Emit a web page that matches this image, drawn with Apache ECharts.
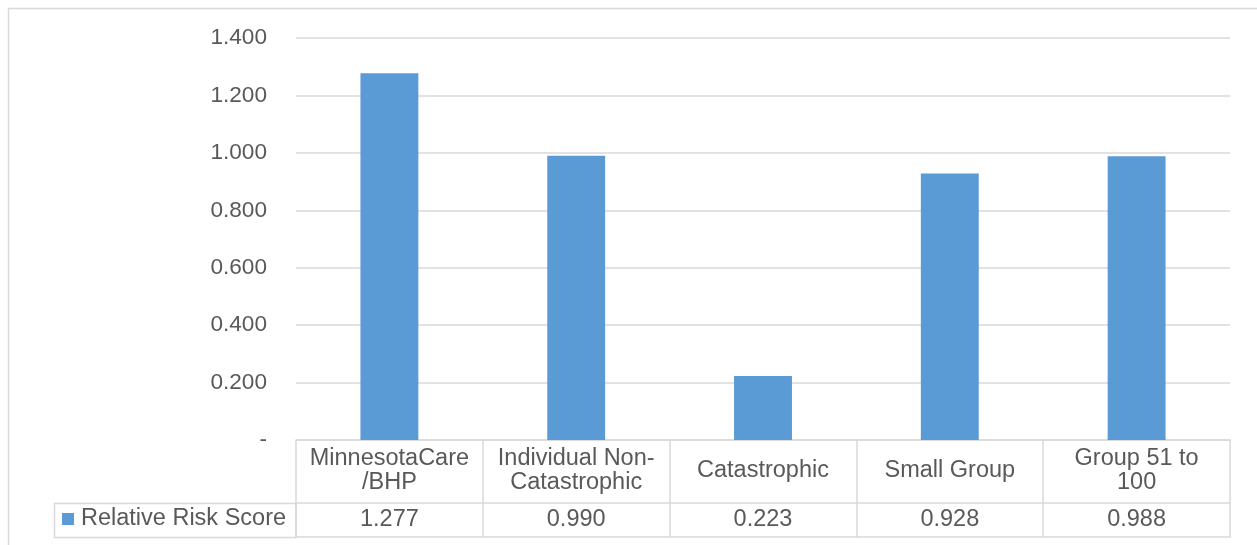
<!DOCTYPE html>
<html>
<head>
<meta charset="utf-8">
<script src="https://cdn.jsdelivr.net/npm/echarts@6/dist/echarts.min.js"></script>
<style>
html,body{margin:0;padding:0;background:#fff;}
#chart{width:1257px;height:545px;}
</style>
</head>
<body>
<div id="chart"></div>
<script>
const categories = ['MinnesotaCare\n/BHP', 'Individual Non-\nCatastrophic', 'Catastrophic', 'Small Group', 'Group 51 to\n100'];
const seriesName = 'Relative Risk Score';
const values = [1.277, 0.990, 0.223, 0.928, 0.988];
const yTicks = { min: 0, max: 1.4, interval: 0.2 };

const textColor = '#595959';
const lineColor = '#D9D9D9';
const font = 'Liberation Sans, Arial, sans-serif';
const fs = 23.5;
const fsY = 22.6;

const chart = echarts.init(document.getElementById('chart'));
chart.setOption({
  animation: false,
  textStyle: { fontFamily: font },
  grid: { left: 296, right: 27, top: 38, bottom: 105 },
  legend: {
    data: [seriesName],
    left: 62, top: 507,
    icon: 'rect', itemWidth: 12, itemHeight: 12, itemGap: 7,
    textStyle: { color: textColor, fontSize: fs, fontFamily: font, padding: [0, 0, 0, 2] },
    padding: 0
  },
  graphic: [
    { type: 'rect', shape: { x: 8.5, y: 8.5, width: 1300, height: 600 }, style: { fill: 'none', stroke: lineColor, lineWidth: 1.5 }, silent: true },
    { type: 'rect', shape: { x: 54.5, y: 503.5, width: 241.5, height: 34 }, style: { fill: 'none', stroke: lineColor, lineWidth: 1.5 }, silent: true }
  ],
  xAxis: [
    {
      type: 'category', data: categories, position: 'bottom',
      axisLine: { show: true, lineStyle: { color: lineColor, width: 1.5 } },
      axisTick: { show: true, interval: 0, length: 97, lineStyle: { color: lineColor, width: 1.5 } },
      axisLabel: { interval: 0, color: textColor, fontSize: fs, lineHeight: 24, margin: 31, verticalAlign: 'middle', align: 'center' }
    },
    {
      type: 'category', data: values.map(v => v.toFixed(3)), position: 'bottom', offset: 63,
      axisLine: { show: true, lineStyle: { color: lineColor, width: 1.5 } },
      axisTick: { show: false },
      axisLabel: { interval: 0, color: textColor, fontSize: fs, margin: 17, verticalAlign: 'middle' }
    },
    {
      type: 'category', data: categories.map(() => ''), position: 'bottom', offset: 97,
      axisLine: { show: true, lineStyle: { color: lineColor, width: 1.5 } },
      axisTick: { show: false },
      axisLabel: { show: false }
    }
  ],
  yAxis: {
    type: 'value', min: yTicks.min, max: yTicks.max, interval: yTicks.interval,
    axisLine: { show: false }, axisTick: { show: false },
    splitLine: { lineStyle: { color: lineColor, width: 1.5 } },
    axisLabel: {
      color: textColor, fontSize: fsY, margin: 29,
      formatter: v => v === 0 ? '-' : v.toFixed(3)
    }
  },
  series: [{
    name: seriesName, type: 'bar', data: values, barWidth: '31%',
    xAxisIndex: 0,
    itemStyle: { color: '#5B9BD5' }
  }]
});
</script>
</body>
</html>
